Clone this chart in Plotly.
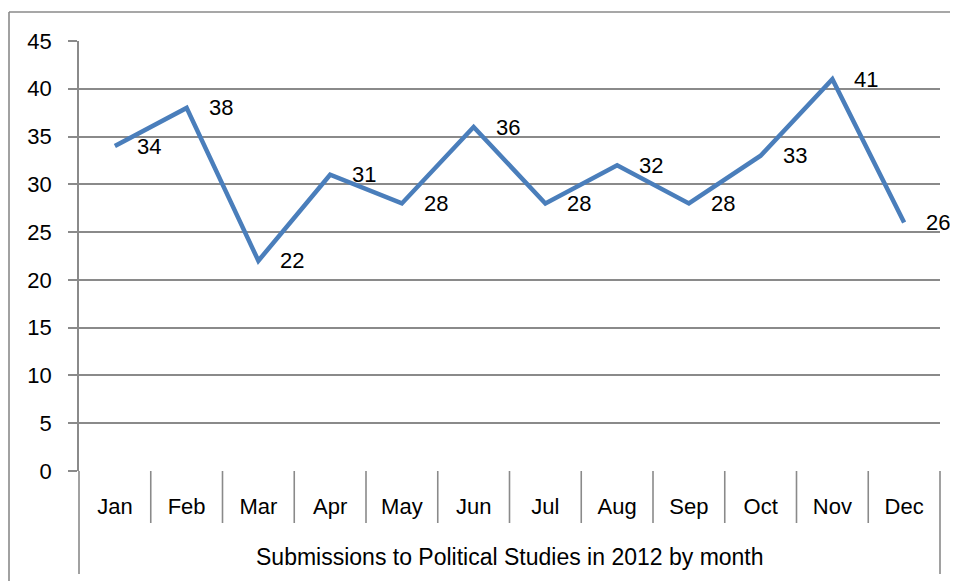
import plotly.graph_objects as go

months = ["Jan", "Feb", "Mar", "Apr", "May", "Jun", "Jul", "Aug", "Sep", "Oct", "Nov", "Dec"]
submissions = [34, 38, 22, 31, 28, 36, 28, 32, 28, 33, 41, 26]
y_ticks = [0, 5, 10, 15, 20, 25, 30, 35, 40, 45]
axis_title = "Submissions to Political Studies in 2012 by month"

# page body has an 8px margin; positions below are screen pixels
OFF = 8
W, H = 958, 581
PLOT_L, PLOT_R, PLOT_T, PLOT_B = 79, 940, 41, 471  # screen px
L = PLOT_L - OFF
T = PLOT_T - OFF
R = W - (PLOT_R - OFF)
B = H - (PLOT_B - OFF)
PW, PH = PLOT_R - PLOT_L, PLOT_B - PLOT_T

def py(px):
    return (PLOT_B - px) / PH

def px_x(px):
    return (px - PLOT_L) / PW

GRID = "#8a8a8a"
FONT = "Liberation Sans"
FS = 22

fig = go.Figure()
fig.add_trace(go.Scatter(
    x=months, y=submissions, mode="lines",
    line=dict(color="#4a7ebb", width=4.5),
    hoverinfo="skip", showlegend=False,
))

annotations = []
for m, v in zip(months, submissions):
    annotations.append(dict(
        x=m, y=v, xref="x", yref="y", text=str(v), showarrow=False,
        xanchor="left", yanchor="middle", xshift=20,
        font=dict(family=FONT, size=FS, color="black"),
    ))
annotations.append(dict(
    x=0.5, y=py(557), xref="paper", yref="paper", text=axis_title,
    showarrow=False, xanchor="center", yanchor="middle",
    font=dict(family=FONT, size=23, color="black"),
))

shapes = []
n = len(months)
for i in range(n + 1):
    bottom = 574 if i in (0, n) else 523
    shapes.append(dict(
        type="line", xref="paper", yref="paper",
        x0=i / n, x1=i / n, y0=0, y1=py(bottom),
        line=dict(color=GRID, width=1.6),
    ))
# chart area border (left and top)
shapes.append(dict(type="line", xref="paper", yref="paper",
                   x0=px_x(9), x1=px_x(9), y0=py(12), y1=py(620),
                   line=dict(color=GRID, width=1.6)))
shapes.append(dict(type="line", xref="paper", yref="paper",
                   x0=px_x(9), x1=px_x(1000), y0=py(12), y1=py(12),
                   line=dict(color=GRID, width=1.6)))

fig.update_layout(
    width=W, height=H,
    margin=dict(l=L, r=R, t=T, b=B),
    paper_bgcolor="white", plot_bgcolor="white",
    font=dict(family=FONT, size=FS, color="black"),
    xaxis=dict(
        type="category", categoryorder="array", categoryarray=months,
        range=[-0.5, n - 0.5], showgrid=False, zeroline=False,
        showline=False, ticks="outside", ticklen=16, tickcolor="rgba(0,0,0,0)",
        tickfont=dict(family=FONT, size=FS, color="black"),
        fixedrange=True,
    ),
    yaxis=dict(
        range=[0, 45], tickvals=y_ticks, showgrid=True, gridcolor=GRID, gridwidth=1.6,
        zeroline=False, showline=True, linecolor=GRID, linewidth=1.6,
        ticks="outside", ticklen=9, tickcolor=GRID, tickwidth=1.6,
        ticklabelstandoff=12,
        tickfont=dict(family=FONT, size=FS, color="black"),
        fixedrange=True,
    ),
    annotations=annotations,
    shapes=shapes,
)

fig.write_html("out.html")
